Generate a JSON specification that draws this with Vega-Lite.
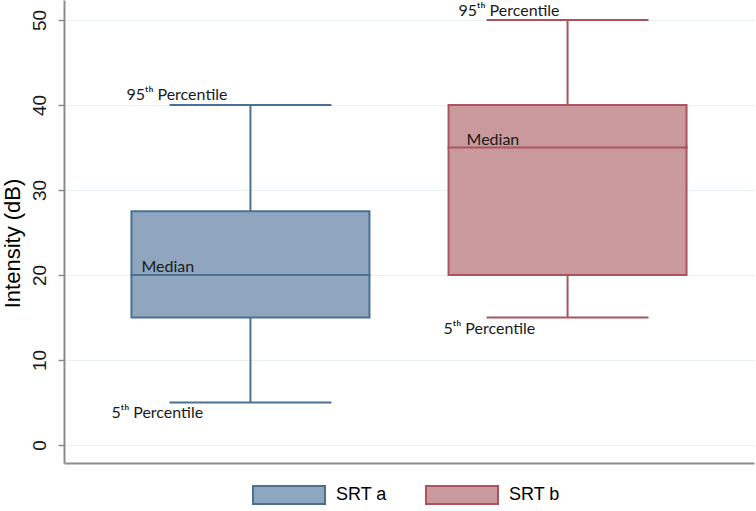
{
  "$schema": "https://vega.github.io/schema/vega-lite/v6.json",
  "width": 690,
  "height": 463,
  "autosize": "none",
  "padding": {"left": 64, "top": 0, "right": 2, "bottom": 48},
  "background": "white",
  "config": {
    "view": {"stroke": null},
    "font": "Liberation Sans",
    "axisY": {
      "labelAngle": -90,
      "labelAlign": "center",
      "labelBaseline": "bottom",
      "labelFontSize": 19,
      "labelFont": "Liberation Sans",
      "labelColor": "#1a1a1a",
      "labelPadding": 9,
      "tickSize": 6,
      "tickColor": "#8c8c8c",
      "tickWidth": 1.5,
      "domainColor": "#8c8c8c",
      "domainWidth": 2,
      "grid": true,
      "gridColor": "#e9f1f3",
      "gridWidth": 1,
      "titleFontSize": 22,
      "titleFont": "Liberation Sans",
      "titleFontWeight": "normal",
      "titleColor": "#000000",
      "titlePadding": 6,
      "titleY": 243
    },
    "legend": {
      "orient": "none",
      "legendX": 188,
      "legendY": 458,
      "direction": "horizontal",
      "padding": 0,
      "symbolType": "M-1,-0.25H1V0.25H-1Z",
      "symbolSize": 5184,
      "symbolStrokeWidth": 2,
      "symbolOpacity": 1,
      "labelFontSize": 18,
      "labelFont": "Liberation Sans",
      "labelColor": "#000000",
      "labelOffset": 10,
      "columnPadding": 35
    }
  },
  "datasets": {
    "stats": [
      {"group": "SRT a", "p5": 5, "q1": 15, "median": 20, "q3": 27.5, "p95": 40},
      {"group": "SRT b", "p5": 15, "q1": 20, "median": 35, "q3": 40, "p95": 50}
    ]
  },
  "data": {"name": "stats"},
  "encoding": {
    "x": {
      "field": "group",
      "type": "nominal",
      "scale": {"type": "point", "padding": 0.588},
      "axis": {"labels": false, "ticks": false, "title": null, "domainColor": "#8c8c8c", "domainWidth": 2, "grid": false}
    }
  },
  "layer": [
    {
      "mark": {"type": "bar", "width": 238, "strokeWidth": 2, "opacity": 1},
      "encoding": {
        "y": {
          "field": "q1", "type": "quantitative", "title": "Intensity (dB)",
          "scale": {"domain": [-2.118, 52.353], "nice": false, "zero": false},
          "axis": {"values": [0, 10, 20, 30, 40, 50]}
        },
        "y2": {"field": "q3"},
        "fill": {
          "field": "group", "type": "nominal",
          "scale": {"range": ["#8fa6be", "#c9999d"]},
          "legend": {
            "title": null,
            "symbolType": "M-1,-0.25H1V0.25H-1Z",
            "encode": {"symbols": {"update": {"stroke": {"scale": "stroke", "field": "value"}, "strokeWidth": {"value": 2}, "opacity": {"value": 1}}}}
          }
        },
        "stroke": {"field": "group", "type": "nominal", "scale": {"range": ["#4a7193", "#a9545e"]}, "legend": null}
      }
    },
    {
      "mark": {"type": "rule", "strokeWidth": 2, "opacity": 1},
      "encoding": {
        "y": {"field": "q3", "type": "quantitative", "title": "Intensity (dB)"},
        "y2": {"field": "p95"},
        "stroke": {"field": "group", "type": "nominal", "legend": null}
      }
    },
    {
      "mark": {"type": "rule", "strokeWidth": 2, "opacity": 1},
      "encoding": {
        "y": {"field": "p5", "type": "quantitative", "title": "Intensity (dB)"},
        "y2": {"field": "q1"},
        "stroke": {"field": "group", "type": "nominal", "legend": null}
      }
    },
    {
      "mark": {"type": "tick", "size": 160, "thickness": 0.01, "filled": false, "strokeWidth": 2, "opacity": 1},
      "encoding": {
        "y": {"field": "p95", "type": "quantitative", "title": "Intensity (dB)"},
        "stroke": {"field": "group", "type": "nominal", "legend": null}
      }
    },
    {
      "mark": {"type": "tick", "size": 160, "thickness": 0.01, "filled": false, "strokeWidth": 2, "opacity": 1},
      "encoding": {
        "y": {"field": "p5", "type": "quantitative", "title": "Intensity (dB)"},
        "stroke": {"field": "group", "type": "nominal", "legend": null}
      }
    },
    {
      "mark": {"type": "tick", "size": 238, "thickness": 0.01, "filled": false, "strokeWidth": 2, "opacity": 1},
      "encoding": {
        "y": {"field": "median", "type": "quantitative", "title": "Intensity (dB)"},
        "stroke": {"field": "group", "type": "nominal", "legend": null}
      }
    },
    {
      "transform": [{"filter": "datum.group === 'SRT a'"}],
      "mark": {"type": "text", "text": "95ᵗʰ Percentile", "align": "left", "baseline": "alphabetic", "dx": -124, "dy": -5, "font": "Lato", "fontSize": 16, "color": "#1a1a1a"},
      "encoding": {"y": {"field": "p95", "type": "quantitative", "title": "Intensity (dB)"}}
    },
    {
      "transform": [{"filter": "datum.group === 'SRT a'"}],
      "mark": {"type": "text", "text": "Median", "align": "left", "baseline": "alphabetic", "dx": -109, "dy": -3, "font": "Lato", "fontSize": 16, "color": "#1a1a1a"},
      "encoding": {"y": {"field": "median", "type": "quantitative", "title": "Intensity (dB)"}}
    },
    {
      "transform": [{"filter": "datum.group === 'SRT a'"}],
      "mark": {"type": "text", "text": "5ᵗʰ Percentile", "align": "left", "baseline": "alphabetic", "dx": -139, "dy": 15.5, "font": "Lato", "fontSize": 16, "color": "#1a1a1a"},
      "encoding": {"y": {"field": "p5", "type": "quantitative", "title": "Intensity (dB)"}}
    },
    {
      "transform": [{"filter": "datum.group === 'SRT b'"}],
      "mark": {"type": "text", "text": "95ᵗʰ Percentile", "align": "left", "baseline": "alphabetic", "dx": -109, "dy": -4, "font": "Lato", "fontSize": 16, "color": "#1a1a1a"},
      "encoding": {"y": {"field": "p95", "type": "quantitative", "title": "Intensity (dB)"}}
    },
    {
      "transform": [{"filter": "datum.group === 'SRT b'"}],
      "mark": {"type": "text", "text": "Median", "align": "left", "baseline": "alphabetic", "dx": -101, "dy": -2, "font": "Lato", "fontSize": 16, "color": "#1a1a1a"},
      "encoding": {"y": {"field": "median", "type": "quantitative", "title": "Intensity (dB)"}}
    },
    {
      "transform": [{"filter": "datum.group === 'SRT b'"}],
      "mark": {"type": "text", "text": "5ᵗʰ Percentile", "align": "left", "baseline": "alphabetic", "dx": -124, "dy": 16.5, "font": "Lato", "fontSize": 16, "color": "#1a1a1a"},
      "encoding": {"y": {"field": "p5", "type": "quantitative", "title": "Intensity (dB)"}}
    }
  ]
}
